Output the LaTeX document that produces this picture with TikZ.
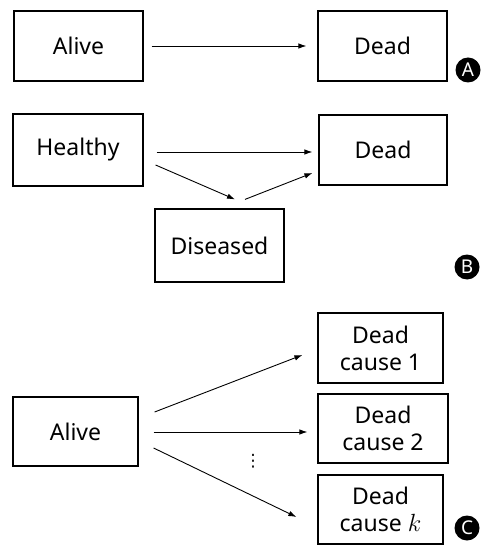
\documentclass[tikz,border=0pt]{standalone}
\usepackage{fontspec}
\setmainfont{Noto Sans}
\newfontfamily\symfont{DejaVu Sans}
\usepackage{tikz}
\usetikzlibrary{arrows.meta}
\def\statefont{\fontsize{23}{27}\selectfont}

\begin{document}
\begin{tikzpicture}[x=1pt,y=-1pt,
    state/.style={draw,line width=1.2pt,minimum width=129pt,minimum height=70pt,
        inner sep=0pt,align=center,font=\statefont},
    trans/.style={line width=0.9pt,-{Latex[length=8pt,width=5.5pt]}},
    panel/.style={circle,fill=black,text=white,minimum size=25pt,inner sep=0pt,
        font=\fontsize{19}{19}\selectfont\bfseries}]
    \useasboundingbox (0,0) rectangle (488,545);
    \node[state] (aliveA) at (78.5,46) {Alive};
    \node[state] (deadA) at (382.5,46) {Dead};
    \node[panel] (labA) at (468,70) {A};
    \draw[trans] ([xshift=8pt]aliveA.east) -- ([xshift=-11pt]deadA.west);
    \node[state,minimum width=130pt,minimum height=72pt] (healthy) at (78,150) {Healthy};
    \node[state,minimum width=128pt] (deadB) at (383,150) {Dead};
    \node[state,minimum height=73pt] (diseased) at (219.5,245.5) {Diseased};
    \node[panel] (labB) at (467,267) {B};
    \draw[trans] ([xshift=13pt,yshift=-2pt]healthy.east) -- ([xshift=-6pt,yshift=-2pt]deadB.west);
    \draw[trans] ([xshift=12pt,yshift=-15pt]healthy.east) -- ([xshift=15.5pt,yshift=9pt]diseased.north);
    \draw[trans] ([xshift=25.5pt,yshift=9pt]diseased.north) -- ([xshift=-6pt,yshift=-23pt]deadB.west);
    \node[state,minimum width=125pt,minimum height=69pt] (aliveC) at (75.5,431.5) {Alive};
    \node[state,minimum width=125pt] (cause1) at (380.5,348) {Dead\\cause 1};
    \node[state,minimum width=130pt,minimum height=69pt] (cause2) at (383,428.5) {Dead\\cause 2};
    \node[state,minimum width=125pt,minimum height=69pt] (causek) at (380.5,509.5) {Dead\\cause $k$};
    \node[font=\symfont\fontsize{17}{17}\selectfont,inner sep=0pt] (dots) at (253,461) {⋮};
    \node[panel] (labC) at (467,528) {C};
    \draw[trans] ([xshift=16pt,yshift=19.5pt]aliveC.east) -- ([xshift=-15pt,yshift=-7pt]cause1.west);
    \draw[trans] ([xshift=15pt,yshift=-0.5pt]aliveC.east) -- ([xshift=-10pt,yshift=-3.5pt]cause2.west);
    \draw[trans] ([xshift=15pt,yshift=-16.5pt]aliveC.east) -- ([xshift=-21pt,yshift=-7.5pt]causek.west);
\end{tikzpicture}
\end{document}
